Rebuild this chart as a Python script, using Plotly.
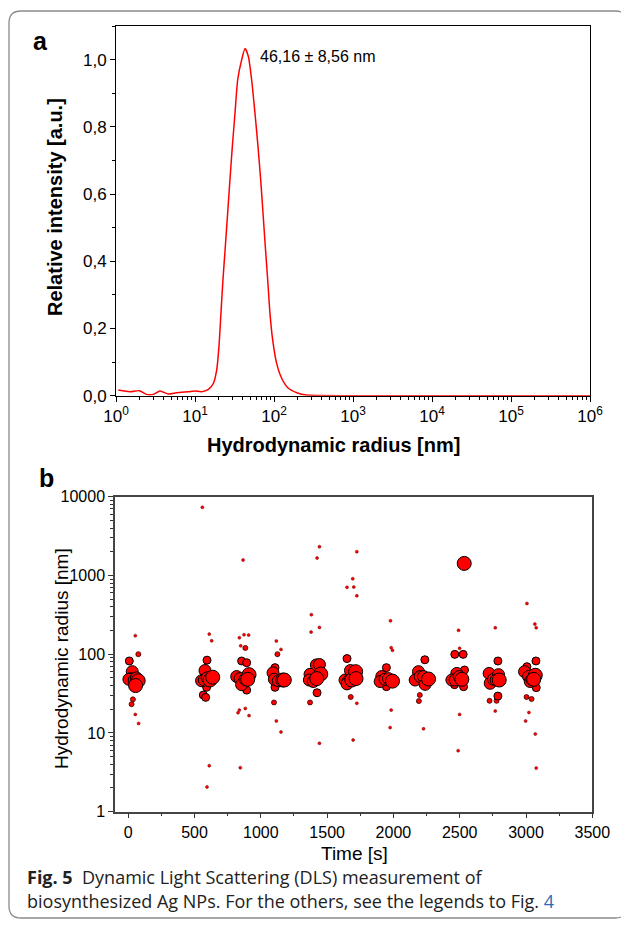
import plotly.graph_objects as go

# ---------------- Panel a: DLS size distribution ----------------
radius_nm = [1.07, 1.50, 1.97, 2.44, 2.97, 3.61, 4.59, 5.86, 8.24, 10.0,
             12.1, 14.8, 17.1, 18.8, 20.1, 21.3, 22.6, 24.2, 25.9, 27.7,
             29.7, 32.1, 34.7, 39.0, 43.0, 47.3, 52.1, 57.4, 62.7, 67.8,
             72.6, 77.6, 83.2, 88.9, 96.2, 108, 125, 152, 194, 259,
             1000, 10000, 100000, 1000000]
intensity = [0.017, 0.012, 0.015, 0.004, 0.004, 0.014, 0.005, 0.009, 0.012, 0.014,
             0.012, 0.019, 0.037, 0.076, 0.146, 0.245, 0.345, 0.444, 0.543, 0.643,
             0.742, 0.841, 0.940, 1.000, 1.033, 1.010, 0.940, 0.841, 0.742, 0.643,
             0.543, 0.444, 0.345, 0.245, 0.166, 0.096, 0.052, 0.022, 0.009, 0.002,
             0.0, 0.0, 0.0, 0.0]
peak_label = "46,16 ± 8,56 nm"
a_xtick_vals = [1, 10, 100, 1000, 10000, 100000, 1000000]
a_xtick_text = ["10<sup>0</sup>", "10<sup>1</sup>", "10<sup>2</sup>", "10<sup>3</sup>",
                "10<sup>4</sup>", "10<sup>5</sup>", "10<sup>6</sup>"]

# ---------------- Panel b: radius vs time ----------------
# small dots
s_time = [53, 53, 78, 559, 611, 629, 611, 594, 866, 838, 873, 908, 848, 838, 828, 883, 911, 845,
          1117, 1152, 1117, 1152, 1442, 1424, 1381, 1379, 1442, 1442,
          1693, 1650, 1701, 1724, 1724, 1696, 1724, 1978, 1983, 1993, 1983, 1975,
          2227, 2491, 2499, 2499, 2488, 2768, 2768,
          3007, 3067, 3077, 3022, 2997, 3070, 3077]
s_radius = [172, 17.2, 13.2, 7330, 180, 148, 3.84, 2.06, 1570, 162, 177, 175, 128, 19.5, 18.1, 20.5, 16.6, 3.62,
            147, 115, 14.2, 10.3, 2320, 1665, 318, 191, 219, 7.38,
            910, 706, 713, 2005, 553, 8.13, 23.8, 266, 121, 112, 19.5, 11.7,
            11.3, 201, 119, 17.2, 5.96, 217, 19,
            441, 241, 217, 18.2, 14.2, 9.7, 3.58]
# small-medium dots
sm_time = [76, 35, 25, 883, 1125, 1099, 1371, 1678, 2199, 2192, 2725, 2778, 3004, 3042]
sm_radius = [100, 26.7, 23.2, 120, 100, 24.4, 24.4, 28.6, 30.3, 25.4, 25.6, 25.6, 28.6, 27]
# medium circles
m_time = [8, 594, 566, 584, 591, 855, 893, 893, 1107, 1107, 1424, 1650, 1650,
          1947, 1947, 2237, 2463, 2526, 2536, 2461, 2529, 2788, 2788, 3075, 3007, 3077]
m_radius = [82, 84, 30.3, 28.3, 38, 82, 35, 78, 67.5, 38, 32.4, 88, 40,
            67.5, 38.7, 85, 99.5, 99.5, 63, 41, 38.7, 82, 29.4, 82, 69.4, 37.6]
# big circles
b_time = [30, 20, 5, 45, 62, 579, 553, 574, 595, 818, 843, 855, 881,
          1092, 1102, 1132, 1419, 1442, 1371, 1366, 1409, 1396,
          1635, 1661, 1676, 1650, 1912, 1900, 1937, 1963,
          2189, 2164, 2202, 2227, 2239, 2478, 2441, 2466, 2496,
          2722, 2730, 2755, 2793, 2775, 2989, 3019, 3032, 3044]
b_radius = [60, 49, 48, 47, 50, 62, 46, 47, 50, 52, 49, 41, 48,
            58, 48, 46, 73, 74, 55.5, 47, 47, 45,
            47, 46, 62, 42, 52, 45, 48, 49,
            60, 47, 52, 52, 41.4, 57, 47, 47, 52,
            57, 42.7, 48, 55, 47, 60, 52, 45, 48]
# largest circles
l_time = [75, 55, 616, 637, 911, 901, 1165, 1177, 1452, 1422, 1686, 1715, 1718,
          1993, 2265, 2534, 2516, 2798, 3070, 3058]
l_radius = [46, 40, 47, 51, 55, 48, 47, 47, 56, 49, 47, 60, 49,
            45.5, 48.4, 1422, 48, 47, 54, 48]
b_ytick_vals = [1, 10, 100, 1000, 10000]
b_ytick_text = ["1", "10", "100", "1000", "10000"]

W, H = 629, 925
OFF = 8  # page body margin shifts the figure by this many pixels
FONT = "Liberation Sans, Arial, sans-serif"

fig = go.Figure()

fig.add_trace(go.Scatter(x=radius_nm, y=intensity, mode="lines",
                         line=dict(color="#ff0000", width=1.5, shape="spline", smoothing=0.6),
                         xaxis="x", yaxis="y", showlegend=False))

groups = [
    (s_time, s_radius, 3, 0.5, "#700000"),
    (sm_time, sm_radius, 5, 0.8, "#300000"),
    (m_time, m_radius, 8, 1, "#000000"),
    (b_time, b_radius, 12, 1, "#000000"),
    (l_time, l_radius, 14, 1, "#000000"),
]
for t, r, size, lw, lc in groups:
    fig.add_trace(go.Scatter(x=t, y=r, mode="markers",
                             marker=dict(size=size, color="#ff0000",
                                         line=dict(color=lc, width=lw)),
                             xaxis="x2", yaxis="y2", showlegend=False))

def px_x(p):
    return (p - OFF) / W

def px_y(p):
    return 1 - (p - OFF) / H

tickfont_a = dict(family=FONT, size=17, color="#000000")
tickfont_b = dict(family=FONT, size=16, color="#000000")

fig.update_layout(
    template="none",
    width=W, height=H,
    margin=dict(l=0, r=0, t=0, b=0, autoexpand=False),
    paper_bgcolor="white", plot_bgcolor="white",
    separators=",.",
    xaxis=dict(type="log", range=[0, 6], domain=[px_x(116), px_x(590)], anchor="y",
               automargin=False,
               tickmode="array", tickvals=a_xtick_vals, ticktext=a_xtick_text,
               ticks="outside", ticklen=5, tickwidth=1, tickcolor="black",
               minor=dict(ticks="outside", ticklen=3, dtick="D1", tickcolor="black"),
               showline=True, linecolor="black", linewidth=1, mirror=True,
               showgrid=False, zeroline=False, tickfont=tickfont_a),
    yaxis=dict(range=[0, 1.1], domain=[px_y(395.7), px_y(26)], anchor="x",
               automargin=False,
               tick0=0, dtick=0.2, tickformat=".1f",
               ticks="outside", ticklen=5, tickwidth=1, tickcolor="black",
               minor=dict(ticks="outside", ticklen=3, dtick=0.1, tickcolor="black"),
               showline=True, linecolor="black", linewidth=1, mirror=True,
               showgrid=False, zeroline=False, tickfont=tickfont_a),
    xaxis2=dict(range=[-100, 3500], domain=[px_x(115), px_x(592.3)], anchor="y2",
                automargin=False,
                tick0=0, dtick=500,
                ticks="outside", ticklen=5, tickwidth=1, tickcolor="#333",
                minor=dict(ticks="outside", ticklen=3, dtick=250, tick0=0, tickcolor="#333"),
                showline=True, linecolor="#444", linewidth=1.5, mirror=True,
                showgrid=False, zeroline=False, tickfont=tickfont_b),
    yaxis2=dict(type="log", range=[0, 4], domain=[px_y(811.7), px_y(496.7)], anchor="x2",
                automargin=False,
                tickmode="array", tickvals=b_ytick_vals, ticktext=b_ytick_text,
                ticks="outside", ticklen=5, tickwidth=1, tickcolor="#333",
                minor=dict(ticks="outside", ticklen=3, dtick="D1", tickcolor="#333"),
                showline=True, linecolor="#444", linewidth=1.5, mirror=True,
                showgrid=False, zeroline=False, tickfont=tickfont_b),
    font=dict(family=FONT, color="black"),
)

r = 12
x0, x1, y0, y1 = 9, 627.5, 11, 918
path = (f"M {px_x(x0 + r)},{px_y(y0)} L {px_x(x1 - r)},{px_y(y0)} "
        f"Q {px_x(x1)},{px_y(y0)} {px_x(x1)},{px_y(y0 + r)} "
        f"L {px_x(x1)},{px_y(y1 - r)} Q {px_x(x1)},{px_y(y1)} {px_x(x1 - r)},{px_y(y1)} "
        f"L {px_x(x0 + r)},{px_y(y1)} Q {px_x(x0)},{px_y(y1)} {px_x(x0)},{px_y(y1 - r)} "
        f"L {px_x(x0)},{px_y(y0 + r)} Q {px_x(x0)},{px_y(y0)} {px_x(x0 + r)},{px_y(y0)} Z")
fig.add_shape(type="path", path=path, xref="paper", yref="paper",
              line=dict(color="#8a8a8a", width=1.3))

annots = [
    dict(text="<b>a</b>", x=px_x(40), y=px_y(41), xanchor="center", yanchor="middle",
         font=dict(family=FONT, size=25, color="black")),
    dict(text="<b>b</b>", x=px_x(46), y=px_y(478), xanchor="center", yanchor="middle",
         font=dict(family=FONT, size=25, color="black")),
    # axis titles
    dict(text="<b>Hydrodynamic radius [nm]</b>", x=px_x(333), y=px_y(445),
         xanchor="center", yanchor="middle", font=dict(family=FONT, size=20, color="black")),
    dict(text="<b>Relative intensity [a.u.]</b>", x=px_x(55), y=px_y(207), textangle=-90,
         xanchor="center", yanchor="middle", font=dict(family=FONT, size=20, color="black")),
    dict(text="Time [s]", x=px_x(354), y=px_y(853),
         xanchor="center", yanchor="middle", font=dict(family=FONT, size=19, color="black")),
    dict(text="Hydrodynamic radius [nm]", x=px_x(61), y=px_y(659), textangle=-90,
         xanchor="center", yanchor="middle", font=dict(family=FONT, size=19, color="black")),
    # caption
    dict(text="<b>Fig. 5</b>  Dynamic Light Scattering (DLS) measurement of",
         x=px_x(25), y=px_y(877), xanchor="left", yanchor="middle",
         font=dict(family="Open Sans, sans-serif", size=18, color="#222")),
    dict(text="biosynthesized Ag NPs. For the others, see the legends to Fig. <span style='color:#2b6cb8'>4</span>",
         x=px_x(25), y=px_y(901), xanchor="left", yanchor="middle",
         font=dict(family="Open Sans, sans-serif", size=18, color="#222")),
]
for a in annots:
    fig.add_annotation(xref="paper", yref="paper", showarrow=False, **a)

fig.add_annotation(text=peak_label, xref="x", yref="y", x=1.797, y=1.009,
                   xanchor="left", yanchor="middle", showarrow=False,
                   font=dict(family=FONT, size=16, color="black"))

fig.write_html("out.html")
